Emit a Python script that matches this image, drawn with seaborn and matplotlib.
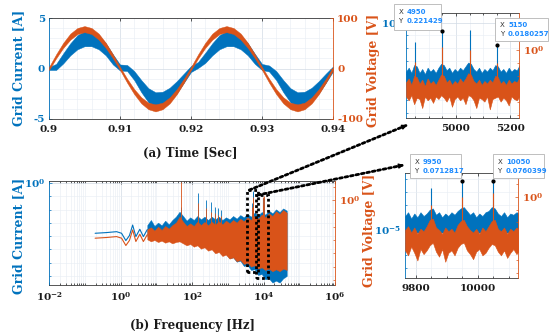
import numpy as np
import matplotlib
matplotlib.use("Agg")
import matplotlib.pyplot as plt
import seaborn as sns
from matplotlib.patches import Rectangle, ConnectionPatch
from matplotlib.ticker import FixedLocator, MultipleLocator, NullFormatter, LogLocator

sns.set_theme(style="ticks")
plt.rcParams["font.family"] = ["DejaVu Serif"]
plt.rcParams["font.weight"] = "bold"
plt.rcParams["mathtext.fontset"] = "dejavuserif"
plt.rcParams["mathtext.default"] = "bf"
plt.rcParams["axes.unicode_minus"] = False

BLUE = "#0072BD"
ORANGE = "#D95319"
TIP_BLUE = "#1E8CFF"
DOTS = (0, (1, 1))

# ---------------- (a) time domain, one sample per ms ----------------
t_sec = np.linspace(0.900, 0.940, 41)
current = [0.00, 0.15, 1.00, 1.90, 2.60, 2.95, 2.95, 2.60, 1.90, 0.90, 0.10,
           0.05, -0.70, -1.75, -2.65, -3.10, -3.05, -2.60, -1.85, -0.95, -0.05,
           0.35, 1.05, 1.90, 2.60, 2.95, 2.95, 2.60, 1.90, 0.95, 0.15,
           0.00, -0.70, -1.75, -2.65, -3.10, -3.05, -2.60, -1.85, -0.95, -0.05]
current_spread = [0.15, 0.3, 0.5, 0.6, 0.7, 0.75, 0.75, 0.7, 0.6, 0.5, 0.3,
                  0.3, 0.45, 0.6, 0.7, 0.75, 0.75, 0.7, 0.6, 0.45, 0.3,
                  0.3, 0.5, 0.6, 0.7, 0.75, 0.75, 0.7, 0.6, 0.5, 0.3,
                  0.3, 0.45, 0.6, 0.7, 0.75, 0.75, 0.7, 0.6, 0.45, 0.25]
voltage = [0.0, 24.1, 45.8, 63.1, 74.2, 78.0, 74.2, 63.1, 45.8, 24.1, 0.0,
           -24.1, -45.8, -63.1, -74.2, -78.0, -74.2, -63.1, -45.8, -24.1, 0.0,
           24.1, 45.8, 63.1, 74.2, 78.0, 74.2, 63.1, 45.8, 24.1, 0.0,
           -24.1, -45.8, -63.1, -74.2, -78.0, -74.2, -63.1, -45.8, -24.1, 0.0]
voltage_spread = [3, 4, 5, 6, 6, 6, 6, 6, 5, 4, 3,
                  4, 5, 6, 6.5, 7, 6.5, 6, 5, 4, 3,
                  4, 5, 6, 6, 6, 6, 6, 5, 4, 3,
                  4, 5, 6, 6.5, 7, 6.5, 6, 5, 4, 3]

# ---------------- (b) spectrum, values as log10 exponents ----------------
# smooth part below ~5 Hz
low_logf = [-0.71, -0.40, -0.11, 0.03, 0.15, 0.25, 0.34, 0.43, 0.54, 0.64, 0.75]
low_cur = [-3.78, -3.73, -3.66, -3.78, -4.33, -3.95, -3.16, -4.03, -3.48, -4.03, -3.5]
low_volt = [-2.87, -2.82, -2.75, -2.87, -3.42, -3.04, -2.25, -3.12, -2.57, -3.12, -2.6]
# noisy band 5 Hz .. 45 kHz, envelopes
band_logf = np.linspace(0.75, 4.65, 40)
band_cur_hi = [-3.16, -2.78, -3.23, -2.98, -3.18, -2.83, -3.11, -2.78, -2.53, -2.16,
               -2.48, -2.83, -2.58, -2.78, -2.48, -2.73, -2.53, -2.78, -2.53, -2.73,
               -2.53, -2.78, -2.58, -2.73, -2.48, -2.68, -2.41, -2.58, -2.33, -2.53,
               -2.23, -2.43, -2.18, -2.38, -2.08, -2.28, -1.98, -2.18, -1.91, -2.08]
band_cur_lo = [-3.98, -4.16, -4.03, -4.24, -4.11, -4.29, -4.16, -4.34, -4.24, -4.16,
               -4.34, -4.49, -4.39, -4.59, -4.49, -4.74, -4.66, -4.91, -4.84, -5.16,
               -5.09, -5.41, -5.34, -5.66, -5.59, -5.92, -5.84, -6.24, -6.17, -6.54,
               -6.49, -6.92, -6.84, -7.24, -7.17, -7.49, -7.34, -7.49, -7.17, -6.99]
band_volt_hi = [-2.20, -2.05, -2.30, -2.00, -2.25, -1.95, -2.15, -1.88, -1.70, -1.25,
                -1.63, -1.95, -1.75, -1.95, -1.63, -1.88, -1.65, -1.90, -1.63, -1.85,
                -1.60, -1.83, -1.55, -1.75, -1.50, -1.70, -1.40, -1.60, -1.30, -1.50,
                -1.20, -1.40, -1.10, -1.30, -1.00, -1.20, -0.85, -1.05, -0.75, -0.95]
band_volt_lo = [-2.96, -3.11, -3.01, -3.16, -3.06, -3.21, -3.11, -3.26, -3.16, -3.11,
                -3.26, -3.41, -3.31, -3.51, -3.41, -3.66, -3.56, -3.81, -3.71, -4.01,
                -3.91, -4.21, -4.11, -4.41, -4.31, -4.61, -4.51, -4.81, -4.71, -5.01,
                -4.91, -5.16, -5.06, -5.26, -5.16, -5.36, -5.21, -5.36, -5.16, -5.26]
spike_f = [50, 150, 250, 350, 450, 550, 650, 4850, 4950, 5050, 5150, 9850, 9950, 10050]
spike_cur = [-1.78, -0.78, -1.28, -1.41, -1.78, -1.91, -2.03, -1.51, -0.66, -0.58, -1.74, -1.69, -1.15, -1.12]
spike_volt = [1.35, -0.25, -0.63, -0.88, -1.0, -1.13, -1.2, -0.5, 0.2, 0.1, -0.7, -0.4, 0.2, 0.3]

# ---------------- zoom around 5 kHz ----------------
z1_f = np.arange(4815, 5240, 10)
z1_cur_hi = [-3.8, -3.5, -3.9, -3.3, -3.4, -3.9, -3.6, -4.0, -3.5, -3.8,
             -3.6, -3.9, -3.5, -3.2, -3.3, -3.7, -3.5, -3.9, -3.6, -3.8,
             -3.5, -3.7, -3.4, -3.1, -3.2, -3.6, -3.8, -3.5, -3.9, -3.6,
             -3.8, -3.5, -3.7, -3.3, -3.4, -3.8, -3.6, -3.9, -3.5, -3.8,
             -3.6, -3.7, -3.3]
z1_cur_floor = -4.9
z1_volt_hi = [-2.5, -2.2, -2.7, -2.0, -2.1, -2.6, -2.3, -2.8, -2.2, -2.6,
              -2.4, -2.7, -2.3, -1.9, -2.0, -2.5, -2.3, -2.7, -2.4, -2.6,
              -2.2, -2.5, -2.2, -1.8, -1.9, -2.4, -2.6, -2.3, -2.7, -2.4,
              -2.6, -2.3, -2.5, -2.0, -2.1, -2.6, -2.4, -2.7, -2.3, -2.6,
              -2.4, -2.5, -2.1]
z1_volt_lo = [-3.6, -3.9, -3.5, -4.2, -3.7, -3.8, -4.5, -3.6, -3.9, -3.7,
              -4.1, -3.6, -3.8, -3.5, -3.7, -4.0, -3.6, -4.4, -3.8, -3.6,
              -3.9, -3.7, -4.2, -3.5, -3.6, -3.9, -4.5, -3.7, -3.8, -4.0,
              -3.6, -4.6, -3.8, -3.7, -3.6, -4.0, -3.7, -3.9, -4.3, -3.6,
              -3.8, -3.9, -3.6]
z1_spike_f = [4850, 4950, 5050, 5150]
z1_spike_cur = [0.0309, 0.221429, 0.26, 0.0180257]
z1_spike_volt = [-0.93, 0.23, 0.0, -1.0]
z1_tips = [(4950, 0.221429), (5150, 0.0180257)]

# ---------------- zoom around 10 kHz ----------------
z2_f = np.arange(9765, 10136, 10)
z2_cur_hi = [-3.9, -3.6, -4.1, -3.7, -4.0, -3.6, -3.9, -3.7, -3.4, -3.3,
             -3.8, -3.6, -4.0, -3.7, -3.9, -3.6, -3.8, -3.5, -3.3, -3.2,
             -3.5, -3.8, -3.6, -4.0, -3.7, -3.9, -3.6, -3.5, -3.2, -3.3,
             -3.7, -3.9, -3.6, -4.0, -3.7, -3.8, -3.6, -3.7]
z2_cur_floor = -5.2
z2_volt_hi = [-2.6, -2.3, -2.8, -2.4, -2.9, -2.5, -2.7, -2.3, -1.8, -1.7,
              -2.4, -2.6, -2.9, -2.4, -2.7, -2.5, -2.8, -2.2, -1.9, -1.8,
              -2.3, -2.6, -2.8, -2.5, -2.9, -2.4, -2.7, -2.3, -1.9, -1.8,
              -2.5, -2.7, -2.4, -2.9, -2.5, -2.7, -2.4, -2.6]
z2_volt_lo = [-4.2, -4.6, -3.9, -4.4, -5.0, -4.1, -4.5, -4.2, -3.8, -3.6,
              -4.3, -4.7, -4.1, -5.1, -4.4, -4.2, -4.6, -4.0, -3.7, -3.6,
              -4.2, -4.5, -4.9, -4.3, -4.1, -4.6, -4.4, -4.0, -3.7, -3.8,
              -4.3, -4.6, -4.2, -4.8, -4.4, -4.1, -4.5, -4.2]
z2_spike_f = [9850, 9950, 10050]
z2_spike_cur = [0.0204, 0.0712817, 0.0760399]
z2_spike_volt = [-0.63, 0.02, 0.3]
z2_tips = [(9950, 0.0712817), (10050, 0.0760399)]


W, H = 550, 336


def px_box(x0, y0, x1, y1):
    return [x0 / W, 1 - y1 / H, (x1 - x0) / W, (y1 - y0) / H]


def p10(v):
    return 10.0 ** np.asarray(v, dtype=float)


def style(ax, ax2, size=7.5):
    ax.spines["left"].set_color(BLUE)
    ax.spines["right"].set_visible(False)
    for s in ("top", "bottom"):
        ax.spines[s].set_color("#3a3a3a")
    for s in ("left", "top", "bottom"):
        ax2.spines[s].set_visible(False)
    ax2.spines["right"].set_color(ORANGE)
    for sp in list(ax.spines.values()) + [ax2.spines["right"]]:
        sp.set_linewidth(0.6)
    ax.tick_params(axis="x", which="both", direction="in", top=True, width=0.5,
                   colors="#1a1a1a", labelsize=size, pad=4)
    ax.tick_params(axis="x", which="major", length=2.5)
    ax.tick_params(axis="x", which="minor", length=1.2)
    ax.tick_params(axis="y", which="both", direction="in", width=0.5, colors=BLUE,
                   labelsize=size, pad=3)
    ax.tick_params(axis="y", which="major", length=2.5)
    ax.tick_params(axis="y", which="minor", length=1.5)
    ax2.tick_params(axis="y", which="both", direction="in", width=0.5, colors=ORANGE,
                    labelsize=size, pad=3)
    ax2.tick_params(axis="y", which="major", length=2.5)
    ax2.tick_params(axis="y", which="minor", length=1.5)
    ax.grid(True, which="major", color="#d2dbe5", lw=0.5)
    ax.grid(True, which="minor", color="#e7edf3", lw=0.4)
    ax.set_axisbelow(True)


def ylabel(ax, text, color, x, y):
    ax.set_ylabel(text, color=color, fontsize=9, fontweight="bold")
    ax.yaxis.set_label_coords(x, y)
    ax.yaxis.label.set_va("center")


def datatip(ax, x0, y0, x1, y1, xv, yv):
    ax.add_patch(Rectangle((x0, y0), x1 - x0, y1 - y0, transform=ax.transAxes,
                           facecolor="white", edgecolor="#b4b4b4", lw=0.6,
                           clip_on=False, zorder=20))
    ym = (y0 + y1) / 2
    ax.text(x0 + 0.04, ym, "X\nY", transform=ax.transAxes, fontsize=5,
            family="DejaVu Sans", weight="normal", color="#333333",
            va="center", ha="left", linespacing=1.6, zorder=21, clip_on=False)
    ax.text(x0 + 0.115, ym, f"{xv}\n{yv:g}", transform=ax.transAxes, fontsize=5,
            family="DejaVu Sans", weight="bold", color=TIP_BLUE,
            va="center", ha="left", linespacing=1.6, zorder=21, clip_on=False)


fig = plt.figure(figsize=(5.5, 3.36), dpi=100)
fig.patch.set_facecolor("white")

# ---------- (a) ----------
axA = fig.add_axes(px_box(49, 18, 333, 119))
axA2 = axA.twinx()
cur = np.array(current)
cur_s = np.array(current_spread)
volt = np.array(voltage)
volt_s = np.array(voltage_spread)
axA.fill_between(t_sec, cur - cur_s, cur + cur_s, color=BLUE, lw=0.3)
sns.lineplot(x=t_sec, y=cur, ax=axA, color=BLUE, lw=0.8)
axA2.fill_between(t_sec, volt - volt_s, volt + volt_s, color=ORANGE, lw=0.3)
axA.set_xlim(0.9, 0.94)
axA.set_ylim(-5, 5)
axA2.set_ylim(-100, 100)
axA.set_xticks([0.9, 0.91, 0.92, 0.93, 0.94])
axA.set_xticklabels(["0.9", "0.91", "0.92", "0.93", "0.94"])
axA.xaxis.set_minor_locator(MultipleLocator(0.002))
axA.set_yticks([-5, 0, 5])
axA.yaxis.set_minor_locator(MultipleLocator(1))
axA2.set_yticks([-100, 0, 100])
style(axA, axA2)
axA.tick_params(which="minor", length=0)
axA2.tick_params(which="minor", length=0)
ylabel(axA, "Grid Current [A]", BLUE, -0.106, 0.505)
ylabel(axA2, "Grid Voltage [V]", ORANGE, 1.141, 0.485)
axA.set_xlabel("(a) Time [Sec]", fontsize=8.5, fontweight="bold", color="#1a1a1a")
axA.xaxis.set_label_coords(0.496, -0.337)
axA.xaxis.label.set_va("center")

# ---------- (b) ----------
axC = fig.add_axes(px_box(49, 181, 335, 285))
axC.set_xscale("log")
axC.set_yscale("log")
axC2 = axC.twinx()
axC2.set_yscale("log")
bf = p10(band_logf)
axC.fill_between(bf, p10(band_cur_lo), p10(band_cur_hi), color=BLUE, lw=0.3)
sns.lineplot(x=p10(low_logf), y=p10(low_cur), ax=axC, color=BLUE, lw=0.8)
axC.vlines(spike_f, 10 ** -3.5, p10(spike_cur), color=BLUE, lw=0.6)
axC2.fill_between(bf, p10(band_volt_lo), p10(band_volt_hi), color=ORANGE, lw=0.3)
sns.lineplot(x=p10(low_logf), y=p10(low_volt), ax=axC2, color=ORANGE, lw=0.8)
axC2.vlines(spike_f, 10 ** -2.2, p10(spike_volt), color=ORANGE, lw=0.6)
axC.set_xlim(1e-2, 1e6)
axC.set_ylim(10 ** -7.67, 10 ** 0.15)
axC2.set_ylim(10 ** -6.39, 10 ** 1.43)
axC.set_xticks([1e-2, 1e0, 1e2, 1e4, 1e6])
axC.set_xticklabels([r"$10^{-2}$", r"$10^{0}$", r"$10^{2}$", r"$10^{4}$", r"$10^{6}$"])
axC.xaxis.set_minor_locator(LogLocator(base=10, subs=np.arange(1, 10), numticks=100))
axC.xaxis.set_minor_formatter(NullFormatter())
axC.set_yticks([1])
axC.set_yticklabels([r"$10^{0}$"])
axC.yaxis.set_minor_locator(FixedLocator(p10(np.arange(-7, 0))))
axC.yaxis.set_minor_formatter(NullFormatter())
axC2.set_yticks([1])
axC2.set_yticklabels([r"$10^{0}$"])
axC2.yaxis.set_minor_locator(FixedLocator(p10(np.arange(-6, 2))))
axC2.yaxis.set_minor_formatter(NullFormatter())
style(axC, axC2)
ylabel(axC, "Grid Current [A]", BLUE, -0.105, 0.471)
ylabel(axC2, "Grid Voltage [V]", ORANGE, 1.122, 0.529)
axC.set_xlabel("(b) Frequency [Hz]", fontsize=8.5, fontweight="bold", color="#1a1a1a")
axC.xaxis.set_label_coords(0.5, -0.385)
axC.xaxis.label.set_va("center")

# dotted selection boxes around 5 kHz and 10 kHz
sel1 = Rectangle((3470, 10 ** -6.69), 7080 - 3470, 10 ** -0.53 - 10 ** -6.69,
                 transform=axC.transData, fill=False, ec="black", lw=2,
                 ls=DOTS, zorder=30)
sel2 = Rectangle((6170, 10 ** -7.14), 13500 - 6170, 10 ** -0.90 - 10 ** -7.14,
                 transform=axC.transData, fill=False, ec="black", lw=2,
                 ls=DOTS, zorder=30)
axC2.add_patch(sel1)
axC2.add_patch(sel2)


def zoom_panel(box, f, cur_hi, cur_floor, volt_hi, volt_lo, sf, scur, svolt, tips,
               xlim, ylim_l, ylim_r, xt, ytl, ytl_lab, minor_l, minor_r):
    ax = fig.add_axes(px_box(*box))
    ax.set_yscale("log")
    ax2 = ax.twinx()
    ax2.set_yscale("log")
    ax.fill_between(f, 10 ** cur_floor, p10(cur_hi), color=BLUE, lw=0.4)
    ax.vlines(sf, 10 ** -4.0, scur, color=BLUE, lw=0.8)
    ax2.fill_between(f, p10(volt_lo), p10(volt_hi), color=ORANGE, lw=0.4)
    ax2.vlines(sf, 10 ** -3.0, p10(svolt), color=ORANGE, lw=0.8)
    ax.set_xlim(*xlim)
    ax.set_ylim(*ylim_l)
    ax2.set_ylim(*ylim_r)
    ax.set_xticks(xt)
    ax.xaxis.set_minor_locator(MultipleLocator(50))
    ax.set_yticks(ytl)
    ax.set_yticklabels(ytl_lab)
    ax.yaxis.set_minor_locator(FixedLocator(p10(minor_l)))
    ax.yaxis.set_minor_formatter(NullFormatter())
    ax2.set_yticks([1])
    ax2.set_yticklabels([r"$10^{0}$"])
    ax2.yaxis.set_minor_locator(FixedLocator(p10(minor_r)))
    ax2.yaxis.set_minor_formatter(NullFormatter())
    style(ax, ax2)
    ax2.plot([p[0] for p in tips], [p[1] for p in tips], "o", color="black", ms=2,
             transform=ax.transData, zorder=25)
    return ax, ax2


axB, axB2 = zoom_panel((406, 13, 519, 118), z1_f, z1_cur_hi, z1_cur_floor, z1_volt_hi,
                       z1_volt_lo, z1_spike_f, z1_spike_cur, z1_spike_volt, z1_tips,
                       (4815, 5233), (10 ** -7.4, 10 ** 0.74), (10 ** -5.27, 10 ** 2.87),
                       [5000, 5200], [1], [r"$10^{0}$"], np.arange(-7, 1), np.arange(-5, 3))
datatip(axB2, -0.106, 0.838, 0.31, 1.086, *z1_tips[0])
datatip(axB2, 0.788, 0.733, 1.257, 0.952, *z1_tips[1])

axD, axD2 = zoom_panel((405, 173, 518, 278), z2_f, z2_cur_hi, z2_cur_floor, z2_volt_hi,
                       z2_volt_lo, z2_spike_f, z2_spike_cur, z2_spike_volt, z2_tips,
                       (9765, 10130), (10 ** -8.78, 10 ** -0.51), (10 ** -6.38, 10 ** 1.89),
                       [9800, 10000], [1e-5], [r"$10^{-5}$"], np.arange(-8, 0), np.arange(-6, 2))
datatip(axD2, 0.044, 0.952, 0.496, 1.181, *z2_tips[0])
datatip(axD2, 0.779, 0.952, 1.23, 1.181, *z2_tips[1])

# dotted leader arrows from the selection boxes to the zoom panels
for start, target, ax_t, back in [((4000, 10 ** -0.53), (0.01, -0.067), axB, (-5.0, -2.1)),
                                  ((7000, 10 ** -0.90), (-0.01, 1.076), axD, (-5.2, -1.0))]:
    con = ConnectionPatch(xyA=start, coordsA=axC.transData, xyB=target,
                          coordsB=ax_t.transAxes, color="black", lw=2,
                          ls=DOTS, zorder=40)
    fig.add_artist(con)
    ax_t.annotate("", xy=target, xycoords="axes fraction", xytext=back,
                  textcoords="offset points", annotation_clip=False,
                  arrowprops=dict(arrowstyle="-|>", color="black", lw=1,
                                  mutation_scale=7, shrinkA=0, shrinkB=0))

fig.savefig("out.png", dpi=100)
